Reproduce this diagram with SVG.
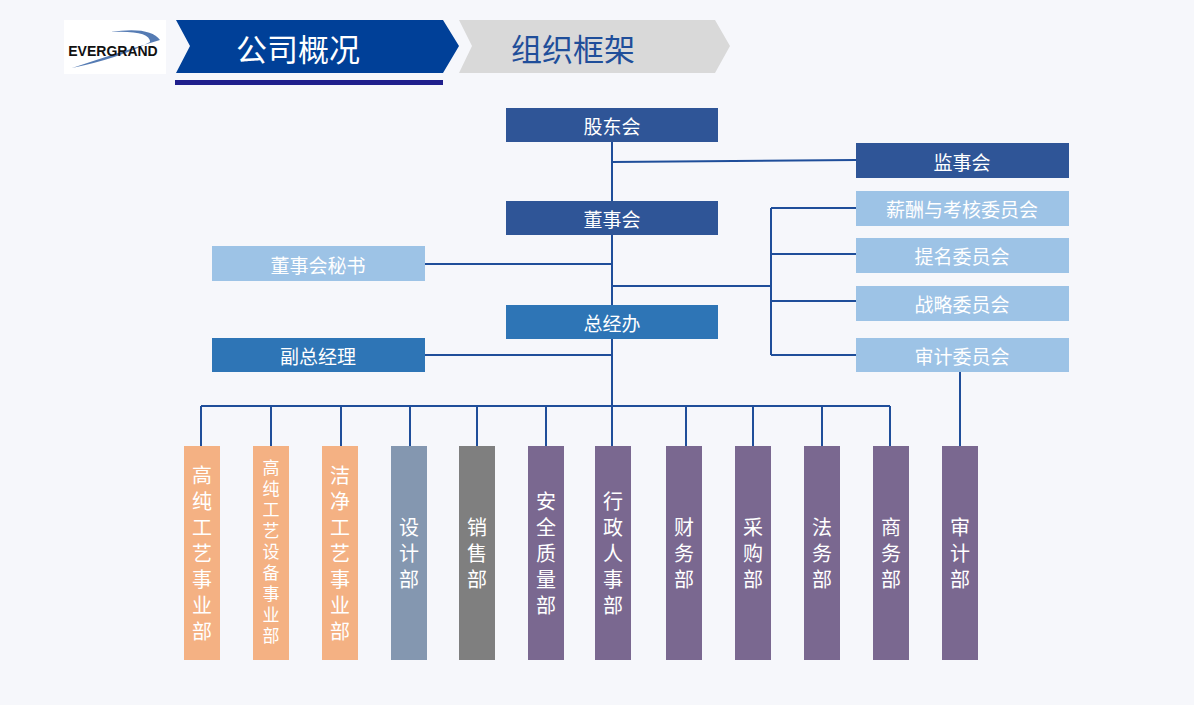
<svg xmlns="http://www.w3.org/2000/svg" width="1194" height="705" viewBox="0 0 1194 705">
<style>
text{font-family:"Noto Sans CJK SC","Noto Sans",sans-serif;fill:#fff;text-anchor:middle;dominant-baseline:central}
.b{font-size:19px}
.v{font-size:20px;writing-mode:vertical-rl;letter-spacing:6px}
.s{font-size:17px;writing-mode:vertical-rl;letter-spacing:4px}
.dk{fill:#2f5597}.lt{fill:#9dc3e6}.md{fill:#2e75b6}.or{fill:#f4b183}.pu{fill:#7a6890}
.ln{stroke:#1f4e9a;stroke-width:2;fill:none}
</style>
<rect width="1194" height="705" fill="#f6f7fb"/>
<g id="header">
<rect x="64" y="20" width="102" height="54" fill="#fff"/>
<path d="M72,68 Q120,52 160,40 Q150,26 110,32 Q150,30 150,42 Q120,58 72,68Z" fill="#2a5aa0" opacity="0.8"/>
<text x="113" y="51" style="fill:#111;font-family:'Liberation Sans',sans-serif;font-weight:bold;font-size:14px">EVERGRAND</text>
<polygon points="176,20 443,20 459,46 443,73 176,73 190,46" fill="#004098"/>
<rect x="175" y="80" width="268" height="5" fill="#1f1f8c"/>
<text x="298" y="47" style="font-size:31px">公司概况</text>
<polygon points="459,20 715,20 730,46 715,73 459,73 472,46" fill="#d9d9d9"/>
<text x="573" y="47" style="font-size:31px;fill:#1f4e9a">组织框架</text>
</g>
<g id="connectors" class="ln">
<path d="M612,142V446M612,162L856,160M425,264H612M612,286H771M771,208V355M771,208H856M771,254H856M771,301H856M771,355H856M425,355H612M201,406H890M960,372V446"/>
<path d="M201,406V446M271,406V446M341,406V446M410,406V446M477,406V446M546,406V446M686,406V446M753,406V446M822,406V446M890,406V446"/>
</g>
<g id="n1"><rect class="dk" x="506" y="108" width="212" height="34"/><text class="b" x="612" y="125">股东会</text></g>
<g id="n2"><rect class="dk" x="856" y="143" width="213" height="35"/><text class="b" x="962" y="161">监事会</text></g>
<g id="n3"><rect class="dk" x="506" y="201" width="212" height="34"/><text class="b" x="612" y="218">董事会</text></g>
<g id="n4"><rect class="lt" x="212" y="246" width="213" height="35"/><text class="b" x="318" y="264">董事会秘书</text></g>
<g id="n5"><rect class="lt" x="856" y="191" width="213" height="35"/><text class="b" x="962" y="208">薪酬与考核委员会</text></g>
<g id="n6"><rect class="lt" x="856" y="238" width="213" height="35"/><text class="b" x="962" y="255">提名委员会</text></g>
<g id="n7"><rect class="lt" x="856" y="286" width="213" height="35"/><text class="b" x="962" y="303">战略委员会</text></g>
<g id="n8"><rect class="lt" x="856" y="338" width="213" height="34"/><text class="b" x="962" y="355">审计委员会</text></g>
<g id="n9"><rect class="md" x="506" y="305" width="212" height="34"/><text class="b" x="612" y="322">总经办</text></g>
<g id="n10"><rect class="md" x="212" y="338" width="213" height="34"/><text class="b" x="318" y="355">副总经理</text></g>
<g id="d1"><rect class="or" x="184" y="446" width="36" height="214"/><text class="v" x="202" y="556">高纯工艺事业部</text></g>
<g id="d2"><rect class="or" x="253" y="446" width="36" height="214"/><text class="s" x="271" y="554">高纯工艺设备事业部</text></g>
<g id="d3"><rect class="or" x="322" y="446" width="36" height="214"/><text class="v" x="340" y="556">洁净工艺事业部</text></g>
<g id="d4"><rect fill="#8497b0" x="391" y="446" width="36" height="214"/><text class="v" x="409" y="556">设计部</text></g>
<g id="d5"><rect fill="#7f7f7f" x="459" y="446" width="36" height="214"/><text class="v" x="477" y="556">销售部</text></g>
<g id="d6"><rect class="pu" x="528" y="446" width="36" height="214"/><text class="v" x="546" y="556">安全质量部</text></g>
<g id="d7"><rect class="pu" x="595" y="446" width="36" height="214"/><text class="v" x="613" y="556">行政人事部</text></g>
<g id="d8"><rect class="pu" x="666" y="446" width="36" height="214"/><text class="v" x="684" y="556">财务部</text></g>
<g id="d9"><rect class="pu" x="735" y="446" width="36" height="214"/><text class="v" x="753" y="556">采购部</text></g>
<g id="d10"><rect class="pu" x="804" y="446" width="36" height="214"/><text class="v" x="822" y="556">法务部</text></g>
<g id="d11"><rect class="pu" x="873" y="446" width="36" height="214"/><text class="v" x="891" y="556">商务部</text></g>
<g id="d12"><rect class="pu" x="942" y="446" width="36" height="214"/><text class="v" x="960" y="556">审计部</text></g>
</svg>
